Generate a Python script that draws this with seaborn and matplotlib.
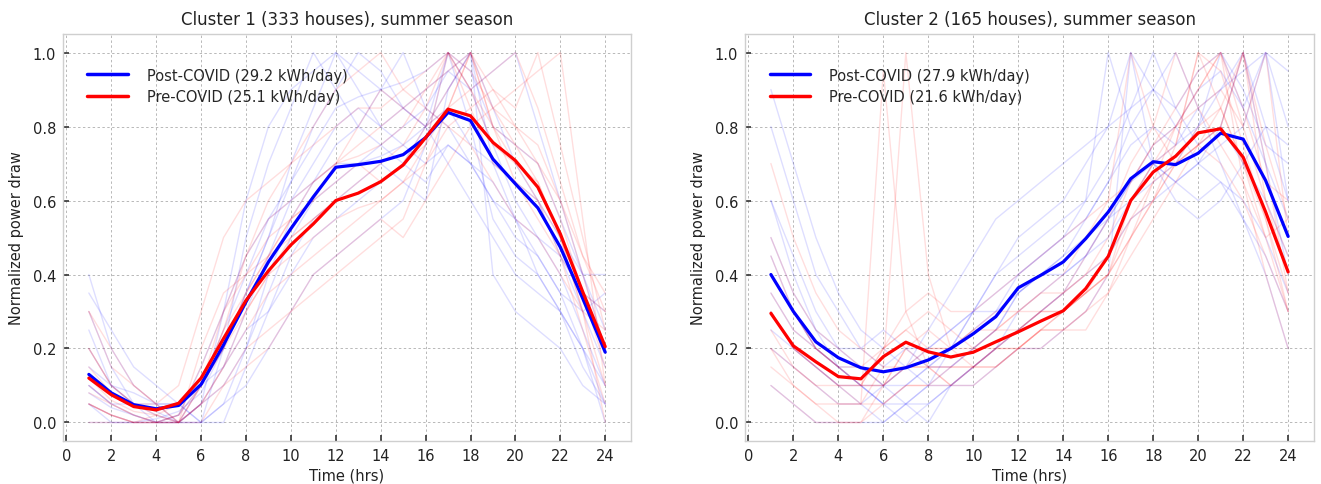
import numpy as np
import pandas as pd
import matplotlib
matplotlib.use("Agg")
import matplotlib.pyplot as plt
import seaborn as sns

sns.set_theme(style="whitegrid")
plt.rcParams['font.family'] = ['DejaVu Sans']

hours = list(range(1, 25))
xticks = list(range(0, 25, 2))
yticks = [0.0, 0.2, 0.4, 0.6, 0.8, 1.0]

titles = ["Cluster 1 (333 houses), summer season", "Cluster 2 (165 houses), summer season"]
post_labels = ["Post-COVID (29.2 kWh/day)", "Post-COVID (27.9 kWh/day)"]
pre_labels = ["Pre-COVID (25.1 kWh/day)", "Pre-COVID (21.6 kWh/day)"]

# mean profiles
c1_post = [0.13, 0.08, 0.048, 0.037, 0.046, 0.103, 0.21, 0.326, 0.434, 0.524, 0.61, 0.69,
           0.697, 0.706, 0.724, 0.77, 0.838, 0.816, 0.712, 0.645, 0.58, 0.474, 0.335, 0.19]
c1_pre = [0.12, 0.075, 0.043, 0.034, 0.052, 0.12, 0.227, 0.33, 0.41, 0.48, 0.537, 0.60,
          0.62, 0.651, 0.696, 0.77, 0.847, 0.829, 0.757, 0.708, 0.636, 0.51, 0.353, 0.205]
c2_post = [0.40, 0.30, 0.218, 0.175, 0.148, 0.137, 0.148, 0.169, 0.20, 0.24, 0.286, 0.364,
           0.398, 0.434, 0.497, 0.569, 0.659, 0.705, 0.697, 0.728, 0.782, 0.766, 0.654, 0.503]
c2_pre = [0.295, 0.207, 0.164, 0.124, 0.118, 0.178, 0.217, 0.191, 0.177, 0.19, 0.218, 0.245,
          0.274, 0.302, 0.362, 0.449, 0.60, 0.677, 0.72, 0.783, 0.794, 0.717, 0.569, 0.407]

# individual house profiles (hand-estimated representatives of the faint background traces)
c1_post_houses = [
    [0.10,0.05,0.02,0.00,0.02,0.10,0.25,0.40,0.55,0.65,0.75,0.85,0.88,0.90,0.92,0.95,1.00,0.90,0.75,0.60,0.50,0.40,0.25,0.10],
    [0.30,0.15,0.05,0.02,0.00,0.05,0.15,0.30,0.45,0.60,0.70,0.80,0.85,0.80,0.85,0.90,0.95,1.00,0.85,0.70,0.60,0.45,0.30,0.15],
    [0.05,0.02,0.00,0.01,0.03,0.08,0.20,0.35,0.50,0.70,0.85,1.00,0.90,0.80,0.75,0.70,0.75,0.70,0.60,0.50,0.45,0.35,0.20,0.05],
    [0.15,0.10,0.05,0.05,0.00,0.10,0.15,0.25,0.30,0.40,0.50,0.55,0.60,0.65,0.70,0.80,1.00,0.95,0.80,0.75,0.70,0.55,0.40,0.25],
    [0.20,0.10,0.08,0.05,0.05,0.00,0.05,0.20,0.40,0.55,0.65,0.75,0.80,0.90,1.00,0.85,0.80,0.70,0.65,0.55,0.50,0.45,0.35,0.30],
    [0.08,0.04,0.02,0.00,0.02,0.15,0.30,0.45,0.55,0.60,0.65,0.70,0.70,0.72,0.75,0.80,0.90,1.00,0.70,0.55,0.40,0.30,0.15,0.05],
    [0.10,0.05,0.05,0.03,0.00,0.05,0.10,0.20,0.35,0.50,0.60,0.65,0.70,0.75,0.80,0.85,0.95,0.90,0.95,1.00,0.80,0.60,0.40,0.20],
    [0.40,0.20,0.10,0.05,0.05,0.00,0.20,0.50,0.70,0.85,1.00,0.90,0.80,0.75,0.70,0.65,0.75,0.70,0.60,0.55,0.45,0.35,0.30,0.35],
    [0.00,0.00,0.00,0.00,0.00,0.00,0.05,0.10,0.20,0.30,0.40,0.45,0.50,0.55,0.60,0.75,1.00,0.80,0.55,0.45,0.40,0.30,0.20,0.00],
    [0.25,0.10,0.05,0.00,0.00,0.05,0.30,0.60,0.80,0.90,0.95,1.00,0.95,0.90,0.85,0.80,0.70,0.60,0.50,0.40,0.35,0.30,0.20,0.10],
    [0.05,0.00,0.00,0.00,0.00,0.00,0.00,0.15,0.30,0.45,0.55,0.60,0.65,0.70,0.65,0.60,0.90,1.00,0.40,0.30,0.25,0.20,0.10,0.05],
    [0.35,0.25,0.15,0.10,0.05,0.10,0.20,0.35,0.50,0.65,0.80,0.90,1.00,0.95,0.85,0.80,0.85,0.75,0.70,0.65,0.60,0.50,0.40,0.40],
]
c1_pre_houses = [
    [0.10,0.05,0.02,0.00,0.02,0.10,0.20,0.30,0.40,0.50,0.55,0.60,0.65,0.70,0.75,0.85,1.00,0.95,0.85,0.80,0.70,0.55,0.35,0.15],
    [0.05,0.02,0.00,0.00,0.02,0.15,0.30,0.40,0.45,0.50,0.55,0.60,0.62,0.65,0.70,0.80,0.90,1.00,0.90,0.80,0.75,0.60,0.40,0.20],
    [0.20,0.10,0.05,0.02,0.00,0.05,0.15,0.30,0.40,0.45,0.50,0.55,0.58,0.60,0.65,0.75,0.85,0.90,0.95,1.00,0.85,0.65,0.45,0.30],
    [0.15,0.08,0.05,0.03,0.05,0.10,0.25,0.35,0.45,0.55,0.65,0.70,0.72,0.75,0.80,0.90,1.00,0.85,0.70,0.65,0.60,0.50,0.35,0.20],
    [0.08,0.05,0.02,0.00,0.00,0.05,0.15,0.25,0.35,0.40,0.45,0.50,0.55,0.60,0.65,0.70,0.80,0.85,0.90,0.85,1.00,0.75,0.50,0.25],
    [0.30,0.15,0.10,0.05,0.00,0.10,0.30,0.45,0.55,0.60,0.65,0.70,0.75,0.80,0.85,0.90,0.95,1.00,0.80,0.65,0.55,0.45,0.35,0.30],
    [0.05,0.02,0.00,0.02,0.05,0.10,0.20,0.35,0.45,0.55,0.60,0.65,0.70,0.65,0.70,0.75,1.00,0.90,0.75,0.70,0.65,0.50,0.30,0.10],
    [0.12,0.06,0.03,0.02,0.00,0.20,0.35,0.40,0.50,0.55,0.60,0.70,0.80,0.90,0.85,0.80,0.85,1.00,0.80,0.70,0.60,0.45,0.25,0.05],
    [0.00,0.00,0.00,0.00,0.00,0.00,0.10,0.20,0.25,0.30,0.35,0.40,0.45,0.50,0.55,0.70,0.85,1.00,0.85,0.75,0.65,0.50,0.30,0.00],
    [0.20,0.10,0.05,0.05,0.10,0.30,0.50,0.60,0.65,0.70,0.75,0.80,0.85,0.85,0.90,0.95,1.00,0.90,0.80,0.75,0.70,0.60,0.45,0.35],
    [0.05,0.02,0.00,0.00,0.00,0.05,0.10,0.15,0.20,0.30,0.40,0.45,0.50,0.55,0.50,0.60,0.70,0.80,0.85,0.90,0.95,1.00,0.55,0.10],
    [0.30,0.20,0.10,0.05,0.00,0.10,0.25,0.45,0.60,0.70,0.80,0.90,0.95,1.00,0.90,0.85,0.80,0.75,0.65,0.55,0.50,0.40,0.30,0.25],
]
c2_post_houses = [
    [0.60,0.45,0.30,0.20,0.15,0.10,0.10,0.15,0.20,0.25,0.30,0.40,0.45,0.50,0.55,0.65,0.75,0.80,0.75,0.80,0.90,1.00,0.80,0.60],
    [0.30,0.20,0.15,0.10,0.05,0.00,0.05,0.10,0.20,0.30,0.35,0.40,0.45,0.50,0.60,0.70,0.85,1.00,0.85,0.75,0.80,0.70,0.60,0.45],
    [0.80,0.60,0.40,0.30,0.20,0.15,0.20,0.20,0.25,0.30,0.30,0.35,0.40,0.45,0.50,0.55,0.60,0.65,0.70,0.80,1.00,0.90,0.75,0.70],
    [0.20,0.15,0.10,0.05,0.05,0.10,0.15,0.20,0.25,0.30,0.40,0.50,0.55,0.60,0.70,0.80,1.00,0.90,0.80,0.70,0.65,0.60,0.50,0.35],
    [0.45,0.30,0.20,0.15,0.10,0.05,0.00,0.05,0.10,0.15,0.20,0.30,0.35,0.40,0.45,0.50,0.60,0.70,0.75,0.85,0.90,0.95,1.00,0.60],
    [0.50,0.35,0.25,0.20,0.20,0.25,0.20,0.15,0.15,0.20,0.25,0.35,0.40,0.40,0.45,0.55,0.65,0.70,0.65,0.70,0.80,1.00,0.70,0.40],
    [0.25,0.20,0.15,0.10,0.10,0.05,0.10,0.15,0.20,0.30,0.40,0.45,0.50,0.55,0.60,1.00,0.80,0.70,0.65,0.60,0.65,0.55,0.45,0.30],
    [0.40,0.30,0.20,0.15,0.15,0.10,0.05,0.00,0.10,0.15,0.20,0.25,0.30,0.35,0.45,0.55,0.65,0.75,0.80,0.90,0.95,0.85,1.00,0.80],
    [0.90,0.70,0.50,0.35,0.25,0.20,0.15,0.10,0.10,0.15,0.20,0.25,0.30,0.35,0.40,0.45,0.55,0.60,0.65,0.70,0.75,0.80,1.00,0.95],
    [0.10,0.05,0.00,0.00,0.00,0.00,0.05,0.10,0.15,0.20,0.25,0.35,0.40,0.45,0.55,0.65,0.80,0.90,1.00,0.85,0.70,0.55,0.40,0.20],
    [0.35,0.25,0.20,0.15,0.10,0.10,0.15,0.25,0.35,0.45,0.55,0.60,0.65,0.70,0.75,0.80,0.85,0.90,0.85,0.95,1.00,0.85,0.70,0.55],
    [0.60,0.40,0.25,0.15,0.10,0.05,0.05,0.05,0.10,0.10,0.15,0.20,0.20,0.25,0.30,0.40,1.00,0.70,0.60,0.55,0.60,0.70,0.80,0.75],
]
c2_pre_houses = [
    [0.40,0.30,0.20,0.15,0.10,0.10,0.15,0.15,0.15,0.20,0.20,0.25,0.30,0.35,0.40,0.50,0.65,0.75,0.80,0.90,1.00,0.80,0.60,0.45],
    [0.20,0.10,0.05,0.00,0.00,0.10,0.20,0.15,0.10,0.10,0.15,0.20,0.25,0.25,0.30,0.40,0.60,0.70,0.75,1.00,0.85,0.70,0.50,0.30],
    [0.35,0.25,0.20,0.15,0.15,0.20,0.25,0.20,0.20,0.25,0.25,0.30,0.30,0.35,0.40,0.45,0.55,0.65,0.70,0.75,0.80,1.00,0.60,0.40],
    [0.15,0.10,0.05,0.05,0.05,0.15,1.00,0.40,0.20,0.15,0.15,0.20,0.25,0.30,0.35,0.40,0.55,0.60,0.70,0.80,0.85,0.70,0.55,0.35],
    [0.50,0.35,0.25,0.20,0.15,0.10,0.15,0.20,0.20,0.25,0.30,0.30,0.35,0.35,0.45,0.55,0.70,0.80,1.00,0.85,0.75,0.65,0.50,0.55],
    [0.25,0.15,0.10,0.05,0.05,0.05,0.10,0.10,0.15,0.15,0.20,0.20,0.25,0.30,0.35,0.45,0.60,0.70,0.80,0.85,0.90,0.80,1.00,0.50],
    [0.30,0.20,0.15,0.10,0.10,0.20,0.25,0.30,0.25,0.20,0.25,0.30,0.35,0.40,0.50,0.60,1.00,0.80,0.70,0.75,0.70,0.60,0.45,0.30],
    [0.20,0.15,0.10,0.10,0.05,0.95,0.30,0.15,0.10,0.15,0.20,0.25,0.30,0.30,0.35,0.40,0.50,0.60,0.70,0.75,0.80,1.00,0.70,0.35],
    [0.70,0.50,0.35,0.25,0.20,0.15,0.15,0.15,0.15,0.15,0.20,0.20,0.25,0.25,0.30,0.35,0.45,0.55,0.65,0.75,0.85,1.00,0.75,0.55],
    [0.10,0.05,0.00,0.00,0.00,0.05,0.10,0.10,0.10,0.15,0.15,0.20,0.20,0.25,0.25,0.35,0.50,0.65,0.80,0.90,1.00,0.65,0.40,0.20],
    [0.30,0.20,0.15,0.10,0.10,0.20,0.30,0.35,0.30,0.30,0.35,0.40,0.45,0.50,0.55,0.60,0.65,0.75,0.85,0.95,1.00,0.85,0.65,0.60],
    [0.45,0.30,0.20,0.15,0.10,0.10,0.20,0.25,0.20,0.20,0.25,0.25,0.30,0.30,0.35,0.40,0.50,0.60,0.75,1.00,0.95,0.75,0.55,0.30],
]

BLUE = "#0000ff"
RED = "#ff0000"

fig = plt.figure(figsize=(13.21, 4.85), dpi=100)
ax1 = fig.add_axes([0.0477, 0.0887, 0.4300, 0.839])
ax2 = fig.add_axes([0.5640, 0.0887, 0.4307, 0.839])

panels = [
    (ax1, c1_post_houses, c1_pre_houses, c1_post, c1_pre),
    (ax2, c2_post_houses, c2_pre_houses, c2_post, c2_pre),
]

for i, (ax, posth, preh, postm, prem) in enumerate(panels):
    for prof in posth:
        sns.lineplot(x=hours, y=prof, ax=ax, color=BLUE, alpha=0.13, lw=1.0)
    for prof in preh:
        sns.lineplot(x=hours, y=prof, ax=ax, color=RED, alpha=0.13, lw=1.0)
    sns.lineplot(x=hours, y=postm, ax=ax, color=BLUE, lw=2.3, label=post_labels[i])
    sns.lineplot(x=hours, y=prem, ax=ax, color=RED, lw=2.3, label=pre_labels[i])

    ax.set_xlim(-0.15, 25.15)
    ax.set_ylim(-0.05, 1.05)
    ax.set_xticks(xticks)
    ax.set_yticks(yticks)
    ax.set_xticklabels([str(t) for t in xticks])
    ax.set_yticklabels([f"{t:.1f}" for t in yticks])
    ax.set_facecolor("white")
    ax.grid(True, color="#b8b8b8", linestyle=(0, (2.5, 2.5)), linewidth=0.7)
    for sp in ax.spines.values():
        sp.set_visible(True)
        sp.set_color("#cfcfcf")
        sp.set_linewidth(1.0)
    ax.tick_params(axis="both", which="major", direction="in", length=4, width=1.2, color="#333333",
                   labelsize=10.5, labelcolor="#222222", pad=5, bottom=True, left=True)
    ax.set_title(titles[i], fontsize=12, color="#222222", pad=7)
    ax.set_xlabel("Time (hrs)", fontsize=10.5, color="#222222", labelpad=3)
    ax.set_ylabel("Normalized power draw", fontsize=10.5, color="#222222", labelpad=6)
    leg = ax.legend(loc="upper left", bbox_to_anchor=(0.02, 0.95), frameon=False,
                    fontsize=10.5, handlelength=2.8, handletextpad=1.3, labelspacing=0.45)
    for line in leg.get_lines():
        line.set_linewidth(2.5)

fig.savefig("out.png", dpi=100)
